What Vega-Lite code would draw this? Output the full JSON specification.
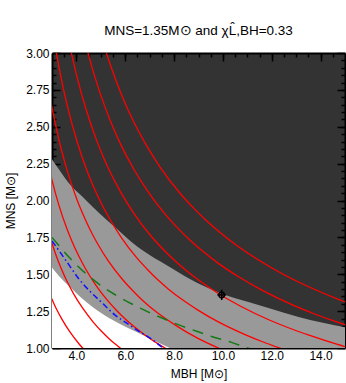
{
  "$schema": "https://vega.github.io/schema/vega-lite/v6.json",
  "width": 293,
  "height": 295,
  "autosize": {"type": "none"},
  "padding": {"left": 52, "top": 53, "right": 1, "bottom": 35},
  "background": "white",
  "config": {
    "view": {"fill": "#333333", "stroke": null},
    "font": "Liberation Sans",
    "axis": {"grid": false, "domainColor": "black", "domainWidth": 2, "tickColor": "black", "tickWidth": 1.5, "zindex": 1, "labelColor": "black", "labelFont": "Liberation Sans", "labelFontSize": 12, "titleFont": "Liberation Sans", "titleFontSize": 12, "titleFontWeight": "normal", "titleColor": "black"}
  },
  "title": {"text": "MNS=1.35M⊙ and χL̂,BH=0.33", "font": "Liberation Sans", "fontSize": 13.5, "fontWeight": "normal", "color": "black", "anchor": "middle", "frame": "group", "offset": 10},
  "datasets": {
    "upper": [
      {"x": 3.0, "y": 2.28}, {"x": 3.33, "y": 2.2}, {"x": 3.73, "y": 2.11}, {"x": 4.28, "y": 2.02}, {"x": 4.96, "y": 1.91}, {"x": 5.64, "y": 1.81}, {"x": 6.32, "y": 1.71}, {"x": 7.0, "y": 1.63}, {"x": 7.82, "y": 1.55}, {"x": 8.63, "y": 1.47}, {"x": 9.93, "y": 1.37}, {"x": 11.08, "y": 1.31}, {"x": 11.9, "y": 1.27}, {"x": 13.1, "y": 1.21}, {"x": 15.0, "y": 1.14}
    ],
    "lower": [
      {"x": 3.0, "y": 1.545}, {"x": 3.33, "y": 1.48}, {"x": 3.73, "y": 1.415}, {"x": 4.14, "y": 1.35}, {"x": 4.69, "y": 1.275}, {"x": 5.37, "y": 1.2}, {"x": 6.05, "y": 1.14}, {"x": 7.0, "y": 1.065}, {"x": 7.82, "y": 1.0}, {"x": 8.3, "y": 0.965}
    ],
    "red": [
      {"mc": 1.711, "x": 2.813, "y": 1.406}, {"mc": 1.711, "x": 2.976, "y": 1.339}, {"mc": 1.711, "x": 3.171, "y": 1.268}, {"mc": 1.711, "x": 3.411, "y": 1.194}, {"mc": 1.711, "x": 3.713, "y": 1.114}, {"mc": 1.711, "x": 4.11, "y": 1.027}, {"mc": 1.711, "x": 4.417, "y": 0.972},
      {"mc": 1.955, "x": 2.918, "y": 1.751}, {"mc": 1.955, "x": 3.214, "y": 1.607}, {"mc": 1.955, "x": 3.4, "y": 1.53}, {"mc": 1.955, "x": 3.623, "y": 1.449}, {"mc": 1.955, "x": 3.898, "y": 1.364}, {"mc": 1.955, "x": 4.243, "y": 1.273}, {"mc": 1.955, "x": 4.696, "y": 1.174}, {"mc": 1.955, "x": 5.046, "y": 1.11}, {"mc": 1.955, "x": 5.325, "y": 1.065}, {"mc": 1.955, "x": 5.654, "y": 1.018}, {"mc": 1.955, "x": 6.047, "y": 0.968},
      {"mc": 2.199, "x": 2.828, "y": 2.262}, {"mc": 2.199, "x": 3.029, "y": 2.12}, {"mc": 2.199, "x": 3.282, "y": 1.969}, {"mc": 2.199, "x": 3.615, "y": 1.807}, {"mc": 2.199, "x": 3.825, "y": 1.721}, {"mc": 2.199, "x": 4.076, "y": 1.63}, {"mc": 2.199, "x": 4.384, "y": 1.534}, {"mc": 2.199, "x": 4.772, "y": 1.432}, {"mc": 2.199, "x": 5.282, "y": 1.321}, {"mc": 2.199, "x": 5.676, "y": 1.249}, {"mc": 2.199, "x": 5.99, "y": 1.198}, {"mc": 2.199, "x": 6.36, "y": 1.145}, {"mc": 2.199, "x": 6.802, "y": 1.088}, {"mc": 2.199, "x": 7.344, "y": 1.028}, {"mc": 2.199, "x": 8.027, "y": 0.963},
      {"mc": 2.444, "x": 2.96, "y": 2.664}, {"mc": 2.444, "x": 3.143, "y": 2.514}, {"mc": 2.444, "x": 3.366, "y": 2.356}, {"mc": 2.444, "x": 3.648, "y": 2.189}, {"mc": 2.444, "x": 4.017, "y": 2.009}, {"mc": 2.444, "x": 4.251, "y": 1.913}, {"mc": 2.444, "x": 4.53, "y": 1.812}, {"mc": 2.444, "x": 4.873, "y": 1.705}, {"mc": 2.444, "x": 5.304, "y": 1.591}, {"mc": 2.444, "x": 5.871, "y": 1.468}, {"mc": 2.444, "x": 6.309, "y": 1.388}, {"mc": 2.444, "x": 6.657, "y": 1.331}, {"mc": 2.444, "x": 7.069, "y": 1.272}, {"mc": 2.444, "x": 7.56, "y": 1.21}, {"mc": 2.444, "x": 8.163, "y": 1.143}, {"mc": 2.444, "x": 8.921, "y": 1.07}, {"mc": 2.444, "x": 9.917, "y": 0.992},
      {"mc": 2.688, "x": 3.088, "y": 3.088}, {"mc": 2.688, "x": 3.256, "y": 2.93}, {"mc": 2.688, "x": 3.456, "y": 2.765}, {"mc": 2.688, "x": 3.702, "y": 2.592}, {"mc": 2.688, "x": 4.012, "y": 2.407}, {"mc": 2.688, "x": 4.419, "y": 2.209}, {"mc": 2.688, "x": 4.675, "y": 2.104}, {"mc": 2.688, "x": 4.982, "y": 1.993}, {"mc": 2.688, "x": 5.359, "y": 1.876}, {"mc": 2.688, "x": 5.834, "y": 1.75}, {"mc": 2.688, "x": 6.457, "y": 1.614}, {"mc": 2.688, "x": 6.939, "y": 1.527}, {"mc": 2.688, "x": 7.322, "y": 1.464}, {"mc": 2.688, "x": 7.774, "y": 1.399}, {"mc": 2.688, "x": 8.315, "y": 1.33}, {"mc": 2.688, "x": 8.977, "y": 1.257}, {"mc": 2.688, "x": 9.812, "y": 1.177}, {"mc": 2.688, "x": 10.907, "y": 1.091}, {"mc": 2.688, "x": 11.598, "y": 1.044}, {"mc": 2.688, "x": 12.424, "y": 0.994},
      {"mc": 2.933, "x": 3.369, "y": 3.369}, {"mc": 2.933, "x": 3.553, "y": 3.197}, {"mc": 2.933, "x": 3.772, "y": 3.017}, {"mc": 2.933, "x": 4.04, "y": 2.828}, {"mc": 2.933, "x": 4.378, "y": 2.627}, {"mc": 2.933, "x": 4.821, "y": 2.411}, {"mc": 2.933, "x": 5.101, "y": 2.295}, {"mc": 2.933, "x": 5.436, "y": 2.174}, {"mc": 2.933, "x": 5.848, "y": 2.047}, {"mc": 2.933, "x": 6.365, "y": 1.91}, {"mc": 2.933, "x": 7.046, "y": 1.761}, {"mc": 2.933, "x": 7.571, "y": 1.666}, {"mc": 2.933, "x": 7.989, "y": 1.598}, {"mc": 2.933, "x": 8.483, "y": 1.527}, {"mc": 2.933, "x": 9.072, "y": 1.452}, {"mc": 2.933, "x": 9.796, "y": 1.371}, {"mc": 2.933, "x": 10.706, "y": 1.285}, {"mc": 2.933, "x": 11.901, "y": 1.19}, {"mc": 2.933, "x": 12.655, "y": 1.139}, {"mc": 2.933, "x": 13.557, "y": 1.085}, {"mc": 2.933, "x": 14.66, "y": 1.026}, {"mc": 2.933, "x": 16.051, "y": 0.963},
      {"mc": 3.177, "x": 4.085, "y": 3.268}, {"mc": 3.177, "x": 4.376, "y": 3.063}, {"mc": 3.177, "x": 4.742, "y": 2.845}, {"mc": 3.177, "x": 5.222, "y": 2.611}, {"mc": 3.177, "x": 5.525, "y": 2.486}, {"mc": 3.177, "x": 5.888, "y": 2.355}, {"mc": 3.177, "x": 6.334, "y": 2.217}, {"mc": 3.177, "x": 6.895, "y": 2.069}, {"mc": 3.177, "x": 7.632, "y": 1.908}, {"mc": 3.177, "x": 8.201, "y": 1.804}, {"mc": 3.177, "x": 8.654, "y": 1.731}, {"mc": 3.177, "x": 9.189, "y": 1.654}, {"mc": 3.177, "x": 9.827, "y": 1.572}, {"mc": 3.177, "x": 10.611, "y": 1.486}, {"mc": 3.177, "x": 11.597, "y": 1.392}, {"mc": 3.177, "x": 12.891, "y": 1.289}, {"mc": 3.177, "x": 13.708, "y": 1.234}, {"mc": 3.177, "x": 14.684, "y": 1.175}, {"mc": 3.177, "x": 15.88, "y": 1.112},
      {"mc": 3.421, "x": 4.712, "y": 3.298}, {"mc": 3.421, "x": 5.107, "y": 3.064}, {"mc": 3.421, "x": 5.623, "y": 2.812}, {"mc": 3.421, "x": 5.95, "y": 2.677}, {"mc": 3.421, "x": 6.341, "y": 2.536}, {"mc": 3.421, "x": 6.82, "y": 2.387}, {"mc": 3.421, "x": 7.425, "y": 2.227}, {"mc": 3.421, "x": 8.218, "y": 2.054}, {"mc": 3.421, "x": 8.831, "y": 1.943}, {"mc": 3.421, "x": 9.319, "y": 1.864}, {"mc": 3.421, "x": 9.894, "y": 1.781}, {"mc": 3.421, "x": 10.582, "y": 1.693}, {"mc": 3.421, "x": 11.425, "y": 1.6}, {"mc": 3.421, "x": 12.487, "y": 1.498}, {"mc": 3.421, "x": 13.88, "y": 1.388}, {"mc": 3.421, "x": 14.761, "y": 1.328}, {"mc": 3.421, "x": 15.812, "y": 1.265}
    ],
    "green": [
      {"x": 3.0, "y": 1.75}, {"x": 3.73, "y": 1.61}, {"x": 4.42, "y": 1.5}, {"x": 5.03, "y": 1.42}, {"x": 5.6, "y": 1.36}, {"x": 6.25, "y": 1.3}, {"x": 6.93, "y": 1.245}, {"x": 7.41, "y": 1.21}, {"x": 8.22, "y": 1.155}, {"x": 8.9, "y": 1.115}, {"x": 9.6, "y": 1.075}, {"x": 10.33, "y": 1.04}, {"x": 11.0, "y": 1.0}, {"x": 11.3, "y": 0.985}
    ],
    "blue": [
      {"x": 3.0, "y": 1.725}, {"x": 3.33, "y": 1.65}, {"x": 3.73, "y": 1.555}, {"x": 4.07, "y": 1.475}, {"x": 4.55, "y": 1.385}, {"x": 5.09, "y": 1.3}, {"x": 5.57, "y": 1.225}, {"x": 6.05, "y": 1.17}, {"x": 6.59, "y": 1.11}, {"x": 7.13, "y": 1.055}, {"x": 7.55, "y": 1.0}, {"x": 7.7, "y": 0.985}
    ],
    "pt": [
      {"x": 9.95, "y": 1.36, "xlo": 9.77, "xhi": 10.13, "ylo": 1.325, "yhi": 1.395}
    ]
  },
  "resolve": {"axis": {"x": "independent", "y": "independent"}},
  "layer": [
    {
      "data": {"name": "upper"},
      "mark": {"type": "area", "color": "#999999", "clip": true, "interpolate": "monotone"},
      "encoding": {
        "x": {"field": "x", "type": "quantitative", "scale": {"domain": [3, 15], "nice": false, "zero": false},
              "axis": {"orient": "bottom", "values": [4, 6, 8, 10, 12, 14], "format": ".1f", "tickSize": -8, "labelPadding": 10, "title": "MBH [M⊙]", "titlePadding": 7}},
        "y": {"field": "y", "type": "quantitative", "scale": {"domain": [1, 3], "nice": false, "zero": false},
              "axis": {"orient": "left", "values": [1, 1.25, 1.5, 1.75, 2, 2.25, 2.5, 2.75, 3], "format": ".2f", "tickSize": -8, "labelPadding": 11, "title": "MNS [M⊙]", "titlePadding": 8}},
        "y2": {"datum": 1}
      }
    },
    {
      "data": {"name": "lower"},
      "mark": {"type": "area", "color": "white", "clip": true, "interpolate": "monotone"},
      "encoding": {
        "x": {"field": "x", "type": "quantitative",
              "axis": {"orient": "bottom", "values": [3.5, 4, 4.5, 5, 5.5, 6, 6.5, 7, 7.5, 8, 8.5, 9, 9.5, 10, 10.5, 11, 11.5, 12, 12.5, 13, 13.5, 14, 14.5], "tickSize": -4, "labels": false, "domain": false, "title": null}},
        "y": {"field": "y", "type": "quantitative",
              "axis": {"orient": "left", "values": [1.05, 1.1, 1.15, 1.2, 1.25, 1.3, 1.35, 1.4, 1.45, 1.5, 1.55, 1.6, 1.65, 1.7, 1.75, 1.8, 1.85, 1.9, 1.95, 2.0, 2.05, 2.1, 2.15, 2.2, 2.25, 2.3, 2.35, 2.4, 2.45, 2.5, 2.55, 2.6, 2.65, 2.7, 2.75, 2.8, 2.85, 2.9, 2.95], "tickSize": -4, "labels": false, "domain": false, "title": null}},
        "y2": {"datum": 1}
      }
    },
    {
      "data": {"name": "red"},
      "mark": {"type": "line", "color": "#ff0000", "strokeWidth": 1.3, "clip": true, "interpolate": "monotone"},
      "encoding": {
        "x": {"field": "x", "type": "quantitative",
              "axis": {"orient": "top", "values": [4, 6, 8, 10, 12, 14], "tickSize": -8, "labels": false, "title": null}},
        "y": {"field": "y", "type": "quantitative",
              "axis": {"orient": "right", "values": [1, 1.25, 1.5, 1.75, 2, 2.25, 2.5, 2.75, 3], "tickSize": -8, "labels": false, "title": null}},
        "detail": {"field": "mc", "type": "nominal"}
      }
    },
    {
      "data": {"name": "green"},
      "mark": {"type": "line", "color": "#147a14", "strokeWidth": 1.5, "strokeDash": [11, 8], "clip": true, "interpolate": "monotone"},
      "encoding": {
        "x": {"field": "x", "type": "quantitative",
              "axis": {"orient": "top", "values": [3.5, 4, 4.5, 5, 5.5, 6, 6.5, 7, 7.5, 8, 8.5, 9, 9.5, 10, 10.5, 11, 11.5, 12, 12.5, 13, 13.5, 14, 14.5], "tickSize": -4, "labels": false, "domain": false, "title": null}},
        "y": {"field": "y", "type": "quantitative",
              "axis": {"orient": "right", "values": [1.05, 1.1, 1.15, 1.2, 1.25, 1.3, 1.35, 1.4, 1.45, 1.5, 1.55, 1.6, 1.65, 1.7, 1.75, 1.8, 1.85, 1.9, 1.95, 2.0, 2.05, 2.1, 2.15, 2.2, 2.25, 2.3, 2.35, 2.4, 2.45, 2.5, 2.55, 2.6, 2.65, 2.7, 2.75, 2.8, 2.85, 2.9, 2.95], "tickSize": -4, "labels": false, "domain": false, "title": null}}
      }
    },
    {
      "data": {"name": "blue"},
      "mark": {"type": "line", "color": "#1010ff", "strokeWidth": 1.5, "strokeDash": [6, 3, 1.5, 3], "clip": true, "interpolate": "monotone"},
      "encoding": {
        "x": {"field": "x", "type": "quantitative", "axis": null},
        "y": {"field": "y", "type": "quantitative", "axis": null}
      }
    },
    {
      "data": {"name": "pt"},
      "mark": {"type": "rule", "color": "black", "strokeWidth": 1.5},
      "encoding": {
        "x": {"field": "xlo", "type": "quantitative", "axis": null},
        "x2": {"field": "xhi"},
        "y": {"field": "y", "type": "quantitative", "axis": null}
      }
    },
    {
      "data": {"name": "pt"},
      "mark": {"type": "rule", "color": "black", "strokeWidth": 1.5},
      "encoding": {
        "x": {"field": "x", "type": "quantitative", "axis": null},
        "y": {"field": "ylo", "type": "quantitative", "axis": null},
        "y2": {"field": "yhi"}
      }
    },
    {
      "data": {"name": "pt"},
      "mark": {"type": "point", "shape": "circle", "filled": false, "color": "black", "strokeWidth": 1.5, "size": 30, "opacity": 1},
      "encoding": {
        "x": {"field": "x", "type": "quantitative", "axis": null},
        "y": {"field": "y", "type": "quantitative", "axis": null}
      }
    }
  ]
}
